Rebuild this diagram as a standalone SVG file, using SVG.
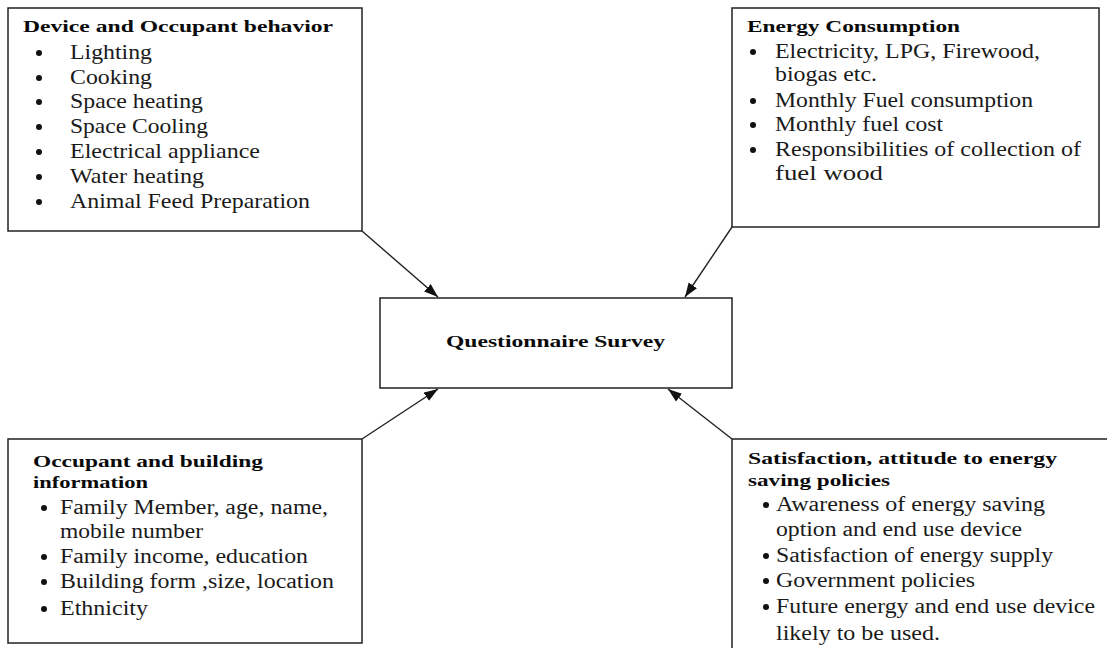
<svg xmlns="http://www.w3.org/2000/svg" width="1107" height="648" viewBox="0 0 1107 648">
<defs>
<style>
.box{fill:#fff;stroke:#222;stroke-width:1.5}
.t{font-family:"Liberation Serif","Times New Roman",serif;font-weight:bold;font-size:17px;fill:#0a0a0a}
.b{font-family:"Liberation Serif","Times New Roman",serif;font-size:20px;fill:#1a1a1a}
.b2{font-family:"Liberation Serif","Times New Roman",serif;font-size:21px;fill:#1a1a1a}
.dot{fill:#111}
.con{stroke:#222;stroke-width:1.4;fill:none;marker-end:url(#ah)}
</style>
<marker id="ah" markerUnits="userSpaceOnUse" markerWidth="15" markerHeight="11" refX="14" refY="5.5" orient="auto">
<path d="M0,0.5 L14,5.5 L0,10.5 z" fill="#111"/>
</marker>
</defs>
<rect width="1107" height="648" fill="#fff"/>

<g id="device-behavior">
<rect class="box" x="8" y="8" width="354" height="223"/>
<text class="t" x="23" y="32" textLength="310" lengthAdjust="spacingAndGlyphs">Device and Occupant behavior</text>
<circle class="dot" cx="39" cy="53" r="3"/><text class="b2" x="70" y="59" textLength="82" lengthAdjust="spacingAndGlyphs">Lighting</text>
<circle class="dot" cx="39" cy="78" r="3"/><text class="b2" x="70" y="84" textLength="82" lengthAdjust="spacingAndGlyphs">Cooking</text>
<circle class="dot" cx="39" cy="102" r="3"/><text class="b2" x="70" y="108" textLength="133" lengthAdjust="spacingAndGlyphs">Space heating</text>
<circle class="dot" cx="39" cy="127" r="3"/><text class="b2" x="70" y="133" textLength="138" lengthAdjust="spacingAndGlyphs">Space Cooling</text>
<circle class="dot" cx="39" cy="152" r="3"/><text class="b2" x="70" y="158" textLength="190" lengthAdjust="spacingAndGlyphs">Electrical appliance</text>
<circle class="dot" cx="39" cy="177" r="3"/><text class="b2" x="70" y="183" textLength="134" lengthAdjust="spacingAndGlyphs">Water heating</text>
<circle class="dot" cx="39" cy="202" r="3"/><text class="b2" x="70" y="208" textLength="240" lengthAdjust="spacingAndGlyphs">Animal Feed Preparation</text>
</g>

<g id="energy-consumption">
<rect class="box" x="732" y="8" width="367" height="219"/>
<text class="t" x="747" y="32" textLength="213" lengthAdjust="spacingAndGlyphs">Energy Consumption</text>
<circle class="dot" cx="753" cy="52" r="3"/><text class="b" x="775" y="58" textLength="265" lengthAdjust="spacingAndGlyphs">Electricity, LPG, Firewood,</text>
<text class="b" x="775" y="81" textLength="102" lengthAdjust="spacingAndGlyphs">biogas etc.</text>
<circle class="dot" cx="753" cy="101" r="3"/><text class="b" x="775" y="107" textLength="258" lengthAdjust="spacingAndGlyphs">Monthly Fuel consumption</text>
<circle class="dot" cx="753" cy="125" r="3"/><text class="b" x="775" y="131" textLength="168" lengthAdjust="spacingAndGlyphs">Monthly fuel cost</text>
<circle class="dot" cx="753" cy="150" r="3"/><text class="b" x="775" y="156" textLength="306" lengthAdjust="spacingAndGlyphs">Responsibilities of collection of</text>
<text class="b" x="775" y="180" textLength="108" lengthAdjust="spacingAndGlyphs">fuel wood</text>
</g>

<g id="questionnaire-survey">
<rect class="box" x="380" y="298" width="352" height="90"/>
<text class="t" x="446" y="347" textLength="219" lengthAdjust="spacingAndGlyphs">Questionnaire Survey</text>
</g>

<g id="occupant-building">
<rect class="box" x="8" y="439" width="354" height="204"/>
<text class="t" x="33" y="467" textLength="230" lengthAdjust="spacingAndGlyphs">Occupant and building</text>
<text class="t" x="33" y="488" textLength="115" lengthAdjust="spacingAndGlyphs">information</text>
<circle class="dot" cx="44" cy="508" r="3"/><text class="b" x="60" y="514" textLength="268" lengthAdjust="spacingAndGlyphs">Family Member, age, name,</text>
<text class="b" x="60" y="538" textLength="143" lengthAdjust="spacingAndGlyphs">mobile number</text>
<circle class="dot" cx="44" cy="557" r="3"/><text class="b" x="60" y="563" textLength="248" lengthAdjust="spacingAndGlyphs">Family income, education</text>
<circle class="dot" cx="44" cy="582" r="3"/><text class="b" x="60" y="588" textLength="274" lengthAdjust="spacingAndGlyphs">Building form ,size, location</text>
<circle class="dot" cx="44" cy="609" r="3"/><text class="b" x="60" y="615" textLength="88" lengthAdjust="spacingAndGlyphs">Ethnicity</text>
</g>

<g id="satisfaction-policies">
<rect class="box" x="732" y="439" width="380" height="215"/>
<text class="t" x="748" y="464" textLength="309" lengthAdjust="spacingAndGlyphs">Satisfaction, attitude to energy</text>
<text class="t" x="748" y="486" textLength="142" lengthAdjust="spacingAndGlyphs">saving policies</text>
<circle class="dot" cx="766" cy="505" r="3"/><text class="b" x="776" y="511" textLength="269" lengthAdjust="spacingAndGlyphs">Awareness of energy saving</text>
<text class="b" x="776" y="536" textLength="246" lengthAdjust="spacingAndGlyphs">option and end use device</text>
<circle class="dot" cx="766" cy="556" r="3"/><text class="b" x="776" y="562" textLength="277" lengthAdjust="spacingAndGlyphs">Satisfaction of energy supply</text>
<circle class="dot" cx="766" cy="581" r="3"/><text class="b" x="776" y="587" textLength="199" lengthAdjust="spacingAndGlyphs">Government policies</text>
<circle class="dot" cx="766" cy="607" r="3"/><text class="b" x="776" y="613" textLength="319" lengthAdjust="spacingAndGlyphs">Future energy and end use device</text>
<text class="b" x="776" y="640" textLength="164" lengthAdjust="spacingAndGlyphs">likely to be used.</text>
</g>

<g id="connectors">
<line class="con" x1="362" y1="231" x2="438" y2="297"/>
<line class="con" x1="732" y1="227" x2="685" y2="297"/>
<line class="con" x1="362" y1="439" x2="438" y2="389"/>
<line class="con" x1="732" y1="439" x2="668" y2="389"/>
</g>
</svg>
